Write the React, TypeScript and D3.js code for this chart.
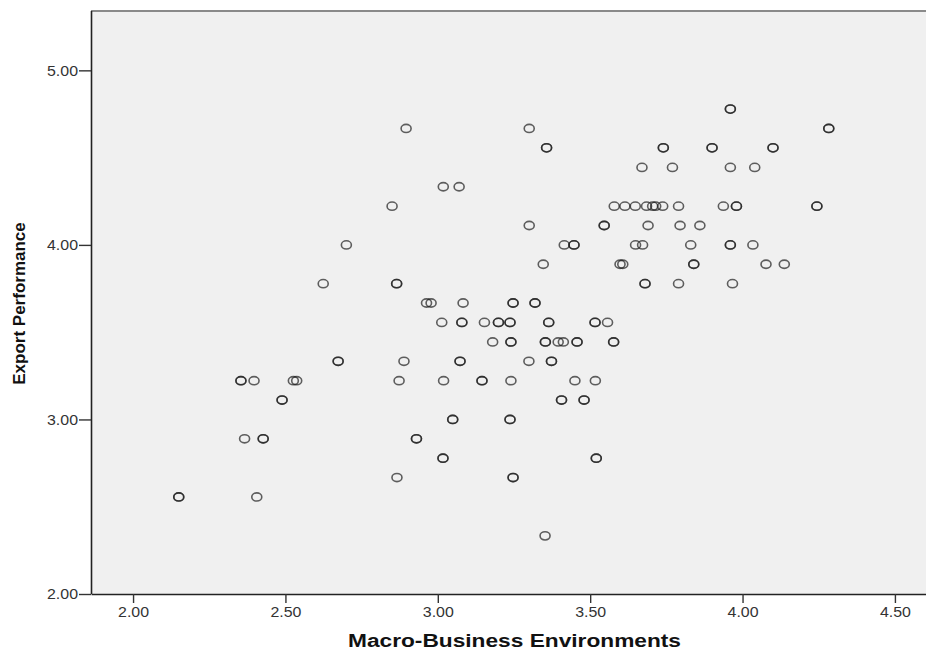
import { useEffect, useRef } from "react"
import * as d3 from "d3"

// Macro-Business Environments (x) per respondent, dark circles in the picture are duplicated points
const macroEnv = [
  3.96, 3.96,
  2.896, 3.3, 4.283, 4.283,
  3.357, 3.357, 3.74, 3.74, 3.9, 3.9, 4.1, 4.1,
  3.67, 3.77, 3.96, 4.04,
  3.018, 3.07,
  2.85, 3.579, 3.614, 3.648, 3.685, 3.705, 3.715, 3.738, 3.79, 3.937, 3.98, 3.98, 4.244, 4.244,
  3.3, 3.546, 3.546, 3.69, 3.795, 3.86,
  2.7, 3.415, 3.447, 3.447, 3.649, 3.672, 3.83, 3.96, 3.96, 4.034,
  3.346, 3.598, 3.607, 3.84, 3.84, 4.077, 4.137,
  2.624, 2.865, 2.865, 3.68, 3.68, 3.79, 3.967,
  2.963, 2.978, 3.083, 3.247, 3.247, 3.319, 3.319,
  3.013, 3.079, 3.079, 3.153, 3.199, 3.199, 3.237, 3.237, 3.364, 3.364, 3.516, 3.516, 3.557,
  3.18, 3.24, 3.24, 3.353, 3.353, 3.395, 3.412, 3.457, 3.457, 3.577, 3.577,
  2.673, 2.673, 2.889, 3.073, 3.073, 3.299, 3.373, 3.373,
  2.354, 2.354, 2.397, 2.526, 2.537, 2.873, 3.019, 3.145, 3.145, 3.24, 3.45, 3.517,
  2.489, 2.489, 3.406, 3.406, 3.48, 3.48,
  3.049, 3.049, 3.237, 3.237,
  2.366, 2.427, 2.427, 2.93, 2.93,
  3.017, 3.017, 3.52, 3.52,
  2.866, 3.247, 3.247,
  2.15, 2.15, 2.406,
  3.352,
]

// Export Performance (y), same order
const exportPerf = [
  4.778, 4.778,
  4.667, 4.667, 4.667, 4.667,
  4.556, 4.556, 4.556, 4.556, 4.556, 4.556, 4.556, 4.556,
  4.444, 4.444, 4.444, 4.444,
  4.333, 4.333,
  4.222, 4.222, 4.222, 4.222, 4.222, 4.222, 4.222, 4.222, 4.222, 4.222, 4.222, 4.222, 4.222, 4.222,
  4.111, 4.111, 4.111, 4.111, 4.111, 4.111,
  4.0, 4.0, 4.0, 4.0, 4.0, 4.0, 4.0, 4.0, 4.0, 4.0,
  3.889, 3.889, 3.889, 3.889, 3.889, 3.889, 3.889,
  3.778, 3.778, 3.778, 3.778, 3.778, 3.778, 3.778,
  3.667, 3.667, 3.667, 3.667, 3.667, 3.667, 3.667,
  3.556, 3.556, 3.556, 3.556, 3.556, 3.556, 3.556, 3.556, 3.556, 3.556, 3.556, 3.556, 3.556,
  3.444, 3.444, 3.444, 3.444, 3.444, 3.444, 3.444, 3.444, 3.444, 3.444, 3.444,
  3.333, 3.333, 3.333, 3.333, 3.333, 3.333, 3.333, 3.333,
  3.222, 3.222, 3.222, 3.222, 3.222, 3.222, 3.222, 3.222, 3.222, 3.222, 3.222, 3.222,
  3.111, 3.111, 3.111, 3.111, 3.111, 3.111,
  3.0, 3.0, 3.0, 3.0,
  2.889, 2.889, 2.889, 2.889, 2.889,
  2.778, 2.778, 2.778, 2.778,
  2.667, 2.667, 2.667,
  2.556, 2.556, 2.556,
  2.333,
]

const xTicks = [2.0, 2.5, 3.0, 3.5, 4.0, 4.5]
const yTicks = [2.0, 3.0, 4.0, 5.0]

const WIDTH = 926
const HEIGHT = 653

const App = () => {
  const svgRef = useRef<SVGSVGElement>(null)

  useEffect(() => {
    const svg = d3.select(svgRef.current)
    svg.selectAll("*").remove()

    const left = 91
    const right = 926
    const top = 11
    const bottom = 594
    const font = "'Liberation Sans', Arial, sans-serif"

    const x = d3.scaleLinear().domain([1.862, 4.602]).range([left, right])
    const y = d3.scaleLinear().domain([2, 5.34]).range([bottom, top])

    // plot background
    svg.append("rect")
      .attr("x", left).attr("y", top)
      .attr("width", right - left).attr("height", bottom - top)
      .attr("fill", "#f0f0f0")

    svg.append("line")
      .attr("x1", left).attr("x2", right)
      .attr("y1", top).attr("y2", top)
      .attr("stroke", "#8a8a8a").attr("stroke-width", 2)

    // points
    const pts = macroEnv.map((v, i) => ({ x: v, y: exportPerf[i] }))
    svg.append("g")
      .selectAll("ellipse")
      .data(pts)
      .join("ellipse")
      .attr("cx", (d) => x(d.x))
      .attr("cy", (d) => y(d.y))
      .attr("rx", 5)
      .attr("ry", 4.1)
      .attr("fill", "none")
      .attr("stroke", "#1e1e1e")
      .attr("stroke-opacity", 0.7)
      .attr("stroke-width", 1.6)

    // axes
    const xAxis = svg.append("g")
      .attr("transform", `translate(0,${bottom})`)
      .call(d3.axisBottom(x).tickValues(xTicks).tickFormat(d3.format(".2f")).tickSize(9).tickSizeOuter(0))
    xAxis.select(".domain").attr("stroke", "#222").attr("stroke-width", 1.6)
    xAxis.selectAll(".tick line").attr("stroke", "#333").attr("stroke-width", 1.4)
    xAxis.selectAll(".tick text")
      .attr("y", 12)
      .attr("dy", "0.71em")
      .attr("fill", "#333")
      .attr("textLength", 31)
      .attr("lengthAdjust", "spacingAndGlyphs")
      .style("font-family", font)
      .style("font-size", "15px")

    const yAxis = svg.append("g")
      .attr("transform", `translate(${left},0)`)
      .call(d3.axisLeft(y).tickValues(yTicks).tickFormat(d3.format(".2f")).tickSize(12).tickSizeOuter(0))
    yAxis.select(".domain").attr("stroke", "#222").attr("stroke-width", 1.6)
      .attr("d", `M0.5,${top}V${bottom}`)
    yAxis.selectAll(".tick line").attr("stroke", "#333").attr("stroke-width", 1.4)
    yAxis.selectAll(".tick text")
      .attr("x", -13)
      .attr("fill", "#333")
      .attr("textLength", 31)
      .attr("lengthAdjust", "spacingAndGlyphs")
      .style("font-family", font)
      .style("font-size", "15px")

    // axis titles
    svg.append("text")
      .attr("x", (left + right) / 2 + 6)
      .attr("y", 647)
      .attr("text-anchor", "middle")
      .attr("textLength", 333)
      .attr("lengthAdjust", "spacingAndGlyphs")
      .style("font-family", font)
      .style("font-weight", "bold")
      .style("font-size", "18px")
      .attr("fill", "#111")
      .text("Macro-Business Environments")

    svg.append("text")
      .attr("transform", `translate(25,${(top + bottom) / 2 + 1}) rotate(-90)`)
      .attr("text-anchor", "middle")
      .style("font-family", font)
      .style("font-weight", "bold")
      .style("font-size", "17px")
      .attr("fill", "#111")
      .text("Export Performance")
  }, [])

  return (
    <svg
      ref={svgRef}
      width={WIDTH}
      height={HEIGHT}
      style={{ position: "absolute", left: 0, top: 0, background: "#fff" }}
    />
  )
}

export default App
